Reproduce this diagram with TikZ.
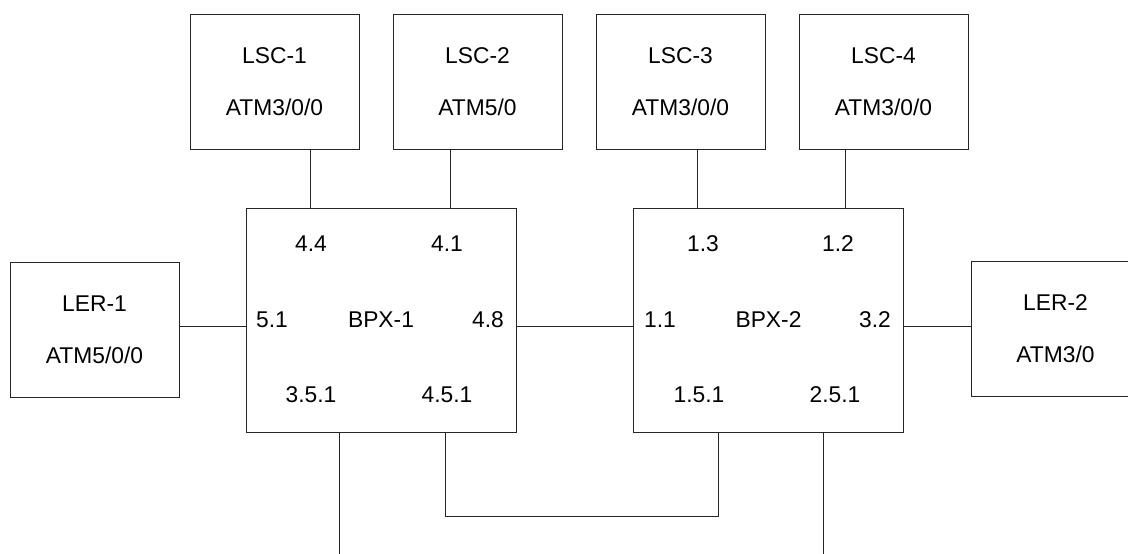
\documentclass[tikz,border=0pt]{standalone}
\usepackage{fontspec}
\setmainfont{Liberation Sans}
\usepackage{tikz}
\usetikzlibrary{positioning}

\begin{document}
\begin{tikzpicture}[
    x=0.5pt, y=-0.5pt,
    box/.style={rectangle, draw=black!85, line width=0.5pt, minimum width=84.5pt, minimum height=67.5pt, inner sep=0pt, align=center, font=\fontsize{11.4}{26}\selectfont}, % LSC and LER boxes
    switch/.style={rectangle, draw=black!85, line width=0.5pt, minimum width=135pt, minimum height=112pt, inner sep=0pt, font=\fontsize{11.4}{14}\selectfont}, % BPX boxes
    port/.style={inner sep=0pt, font=\fontsize{11.4}{14}\selectfont},
    link/.style={draw=black!85, line width=0.5pt},
    node distance=16.5pt and 16.5pt
]
\useasboundingbox (0,0) rectangle (1128,553);

% Top row: LSC
\node[box] (lsc1) at (274.5,81.5) {LSC-1\\ATM3/0/0};
\node[box, right=of lsc1] (lsc2) {LSC-2\\ATM5/0};
\node[box, right=of lsc2] (lsc3) {LSC-3\\ATM3/0/0};
\node[box, right=of lsc3] (lsc4) {LSC-4\\ATM3/0/0};

% Middle row: LER and BPX
\node[switch] (bpx1) at (381,320) {BPX-1};
\node[switch] (bpx2) at (768.5,320) {BPX-2};
\node[box] (ler1) at (94.5,329.5) {LER-1\\ATM5/0/0};
\node[box] (ler2) at (1055.5,329) {LER-2\\ATM3/0};

% Ports of BPX-1
\node[port] (p44) at (311,244) {4.4};
\node[port] (p41) at (447,244) {4.1};
\node[port] (p51) at (272,320) {5.1};
\node[port] (p48) at (488,320) {4.8};
\node[port] (p351) at (311,395) {3.5.1};
\node[port] (p451) at (447,395) {4.5.1};

% Ports of BPX-2
\node[port] (p13) at (703,244) {1.3};
\node[port] (p12) at (838,244) {1.2};
\node[port] (p11) at (660,320) {1.1};
\node[port] (p32) at (875,320) {3.2};
\node[port] (p151) at (699,395) {1.5.1};
\node[port] (p251) at (835,395) {2.5.1};

% LSC to BPX
\draw[link] ([xshift=17.75pt]lsc1.south) -- ([xshift=-35.5pt]bpx1.north);
\draw[link] ([xshift=-13.75pt]lsc2.south) -- ([xshift=34.5pt]bpx1.north);
\draw[link] ([xshift=8.25pt]lsc3.south) -- ([xshift=-35.75pt]bpx2.north);
\draw[link] ([xshift=-19.25pt]lsc4.south) -- ([xshift=38.25pt]bpx2.north);

% LER and trunk between the BPX
\draw[link] ([yshift=1.75pt]ler1.east) -- ([yshift=-3pt]bpx1.west);
\draw[link] ([yshift=-3pt]bpx1.east) -- ([yshift=-3pt]bpx2.west);
\draw[link] ([yshift=-3pt]bpx2.east) -- ([yshift=1.5pt]ler2.west);

% Bottom links
\coordinate (drop1) at (339,556);
\coordinate (drop2) at (823,556);
\draw[link] ([xshift=-21pt]bpx1.south) -- (drop1);
\draw[link] ([xshift=32pt]bpx1.south) -- ++(0,84) -| ([xshift=-25.25pt]bpx2.south);
\draw[link] ([xshift=27.25pt]bpx2.south) -- (drop2);

\end{tikzpicture}
\end{document}
